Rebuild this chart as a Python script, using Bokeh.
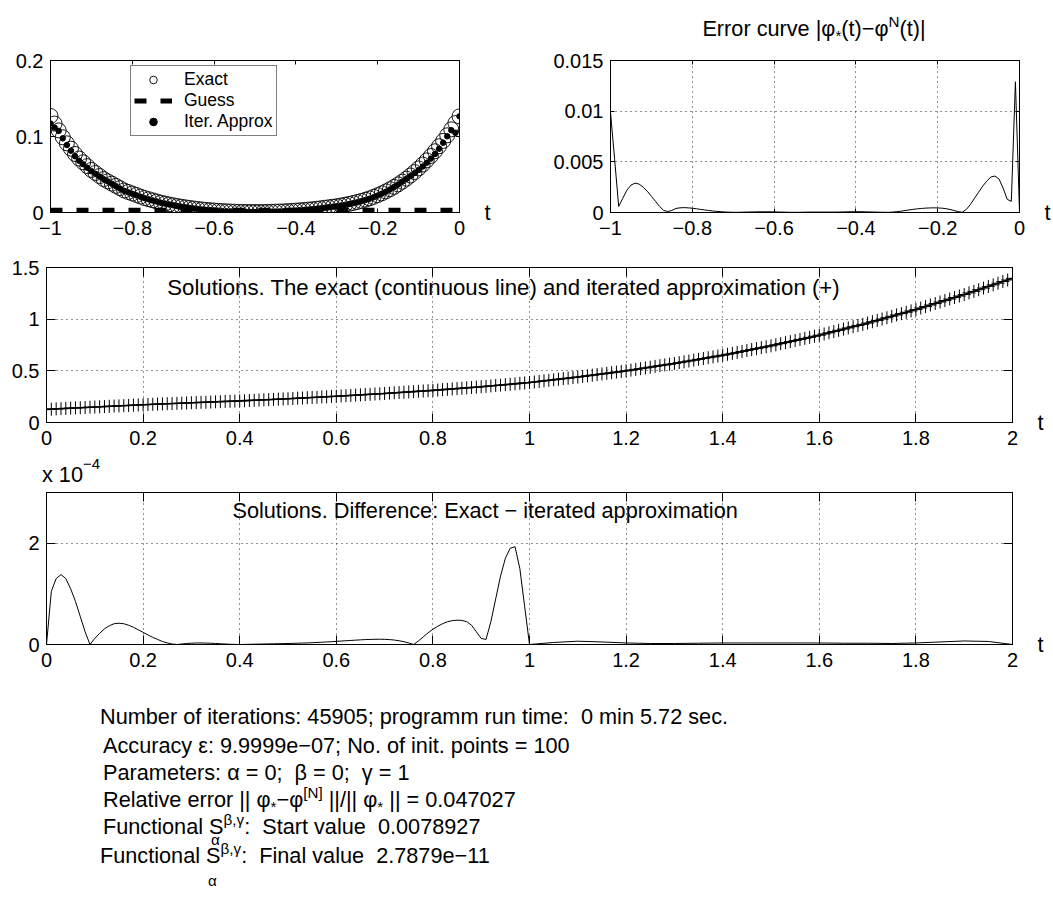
import numpy as np
from bokeh.plotting import figure
from bokeh.models import (FixedTicker, LinearAxis, Legend, LegendItem, Label,
                          CustomJSTickFormatter, Range1d, Div)
from bokeh.layouts import row, column
from bokeh.embed import file_html
from bokeh.resources import INLINE

FONT = "Liberation Sans"
TICK_FS = "20px"
TEXT_FS = "21.7px"

# ------------------------------------------------------------------ data
# initial interval [-1, 0]  (grid of init. points)
t_init = np.round(np.linspace(-1.0, 0.0, 101), 2)
phi_exact_init = [
    0.127, 0.117, 0.108, 0.099, 0.091, 0.084, 0.077, 0.071, 0.066, 0.061,
    0.056, 0.052, 0.048, 0.044, 0.041, 0.038, 0.035, 0.032, 0.029, 0.027,
    0.025, 0.023, 0.021, 0.019, 0.0175, 0.016, 0.0145, 0.013, 0.0118, 0.0106,
    0.0095, 0.0085, 0.0076, 0.0068, 0.006, 0.0053, 0.0046, 0.004, 0.0035, 0.003,
    0.0026, 0.0022, 0.0019, 0.0016, 0.0013, 0.0011, 0.0009, 0.0008, 0.0007, 0.0006,
    0.0006, 0.0006, 0.0007, 0.0008, 0.0009, 0.0011, 0.0013, 0.0015, 0.0018, 0.0021,
    0.0025, 0.0029, 0.0033, 0.0038, 0.0043, 0.0049, 0.0055, 0.0062, 0.0069, 0.0076,
    0.0083, 0.0092, 0.0102, 0.0113, 0.0125, 0.0138, 0.0152, 0.0168, 0.0186, 0.0206,
    0.0228, 0.0252, 0.0278, 0.0306, 0.0337, 0.037, 0.0406, 0.0445, 0.0487, 0.0532,
    0.058, 0.0631, 0.0686, 0.0744, 0.0806, 0.0872, 0.0942, 0.1016, 0.1094, 0.1177,
    0.1265]
phi_approx_init = [
    0.1171, 0.1117, 0.1074, 0.0976, 0.0888, 0.0813, 0.0741, 0.0682, 0.0635, 0.0589,
    0.0544, 0.0509, 0.0474, 0.0438, 0.0409, 0.0378, 0.0346, 0.0315, 0.0285, 0.0265,
    0.0246, 0.0226, 0.0207, 0.0188, 0.0173, 0.0158, 0.0144, 0.0129, 0.0117, 0.0106,
    0.0095, 0.0085, 0.0076, 0.0068, 0.006, 0.0052, 0.0045, 0.0039, 0.0034, 0.0029,
    0.0025, 0.0021, 0.0018, 0.0015, 0.0013, 0.0011, 0.0009, 0.0008, 0.0007, 0.0006,
    0.0006, 0.0006, 0.0007, 0.0008, 0.0009, 0.0011, 0.0013, 0.0015, 0.0017, 0.002,
    0.0024, 0.0028, 0.0032, 0.0037, 0.0042, 0.0048, 0.0054, 0.0061, 0.0068, 0.0076,
    0.0082, 0.0091, 0.01, 0.0111, 0.0122, 0.0134, 0.0148, 0.0164, 0.0181, 0.0201,
    0.0223, 0.0248, 0.0274, 0.0303, 0.0335, 0.0369, 0.0406, 0.0442, 0.0479, 0.0518,
    0.056, 0.0605, 0.0655, 0.0709, 0.077, 0.0839, 0.0918, 0.1003, 0.1083, 0.1048,
    0.1265]
err_init = [
    0.0099, 0.0053, 0.0006, 0.0014, 0.0022, 0.0027, 0.0029, 0.0028, 0.0025, 0.0021,
    0.0016, 0.0011, 0.0006, 0.0002, 0.0001, 0.0002, 0.0004, 0.00046, 0.00048, 0.00046,
    0.00042, 0.00037, 0.00031, 0.00025, 0.0002, 0.00015, 0.00011, 0.00008, 0.00005, 0.00003,
    0.00002, 0.00002, 0.00003, 0.00004, 0.00005, 0.00006, 0.00007, 0.00007, 0.00007, 0.00007,
    0.00006, 0.00005, 0.00004, 0.00003, 0.00002, 0.00002, 0.00002, 0.00003, 0.00004, 0.00004,
    0.00004, 0.00004, 0.00004, 0.00004, 0.00004, 0.00004, 0.00005, 0.00006, 0.00007, 0.00008,
    0.00008, 0.00008, 0.00007, 0.00006, 0.00005, 0.00004, 0.00003, 0.00002, 0.00002, 0.00004,
    0.00008, 0.00013, 0.00019, 0.00025, 0.00031, 0.00036, 0.0004, 0.00043, 0.00045, 0.00046,
    0.00045, 0.00043, 0.00038, 0.0003, 0.0002, 0.00008, 0.00003, 0.0003, 0.0008, 0.0014,
    0.002, 0.0026, 0.0031, 0.0035, 0.0036, 0.0033, 0.0024, 0.0013, 0.0011, 0.0129,
    0.0]
guess_t = [-1.0, 0.0]
guess_v = [0.003, 0.003]

# solution interval [0, 2]
t_exact = [0.0, 0.1, 0.2, 0.3, 0.4, 0.5, 0.6, 0.7, 0.8, 0.9, 1.0,
           1.1, 1.2, 1.3, 1.4, 1.5, 1.6, 1.7, 1.8, 1.9, 2.0]
phi_exact = [0.127, 0.150, 0.172, 0.191, 0.209, 0.230, 0.254, 0.281, 0.311, 0.346, 0.387,
             0.440, 0.500, 0.571, 0.651, 0.742, 0.845, 0.962, 1.093, 1.238, 1.395]
t_sol = np.round(np.linspace(0.0, 2.0, 201), 2)
phi_approx = [
    0.127, 0.129, 0.132, 0.134, 0.136, 0.139, 0.141, 0.143, 0.145, 0.148,
    0.150, 0.152, 0.154, 0.157, 0.159, 0.161, 0.163, 0.165, 0.168, 0.170,
    0.172, 0.174, 0.176, 0.178, 0.180, 0.182, 0.183, 0.185, 0.187, 0.189,
    0.191, 0.193, 0.195, 0.196, 0.198, 0.200, 0.202, 0.204, 0.205, 0.207,
    0.209, 0.211, 0.213, 0.215, 0.217, 0.219, 0.221, 0.223, 0.226, 0.228,
    0.230, 0.232, 0.235, 0.237, 0.240, 0.242, 0.244, 0.247, 0.249, 0.252,
    0.254, 0.257, 0.259, 0.262, 0.265, 0.267, 0.270, 0.273, 0.276, 0.278,
    0.281, 0.284, 0.287, 0.290, 0.293, 0.296, 0.299, 0.302, 0.305, 0.308,
    0.311, 0.314, 0.318, 0.321, 0.325, 0.328, 0.332, 0.335, 0.339, 0.342,
    0.346, 0.350, 0.354, 0.358, 0.362, 0.366, 0.370, 0.374, 0.379, 0.383,
    0.387, 0.392, 0.397, 0.403, 0.408, 0.413, 0.419, 0.424, 0.429, 0.435,
    0.440, 0.446, 0.452, 0.458, 0.464, 0.470, 0.476, 0.482, 0.488, 0.494,
    0.500, 0.507, 0.514, 0.521, 0.528, 0.535, 0.543, 0.550, 0.557, 0.564,
    0.571, 0.579, 0.587, 0.595, 0.603, 0.611, 0.619, 0.627, 0.635, 0.643,
    0.651, 0.660, 0.669, 0.678, 0.687, 0.697, 0.706, 0.715, 0.724, 0.733,
    0.742, 0.752, 0.763, 0.773, 0.783, 0.794, 0.804, 0.814, 0.824, 0.835,
    0.845, 0.857, 0.868, 0.880, 0.892, 0.904, 0.915, 0.927, 0.939, 0.950,
    0.962, 0.975, 0.988, 1.001, 1.014, 1.028, 1.041, 1.054, 1.067, 1.080,
    1.093, 1.108, 1.122, 1.137, 1.151, 1.166, 1.180, 1.195, 1.209, 1.224,
    1.238, 1.254, 1.269, 1.285, 1.301, 1.317, 1.332, 1.348, 1.364, 1.379,
    1.395]

# |exact - approx| in units of 1e-4
t_diff = np.round(np.concatenate([np.linspace(0.0, 1.0, 101),
                                  np.linspace(1.05, 2.0, 20)]), 2)
diff_e4 = [
    0.0, 1.05, 1.30, 1.38, 1.30, 1.10, 0.85, 0.55, 0.25, 0.0,
    0.12, 0.22, 0.31, 0.37, 0.41, 0.42, 0.41, 0.38, 0.34, 0.29,
    0.24, 0.19, 0.14, 0.10, 0.06, 0.03, 0.01, 0.0, 0.01, 0.02,
    0.025, 0.03, 0.03, 0.028, 0.025, 0.02, 0.015, 0.01, 0.005, 0.002,
    0.0, 0.002, 0.004, 0.006, 0.008, 0.01, 0.012, 0.014, 0.016, 0.018,
    0.02, 0.022, 0.025, 0.028, 0.031, 0.035, 0.04, 0.045, 0.05, 0.056,
    0.062, 0.068, 0.074, 0.08, 0.086, 0.092, 0.097, 0.1, 0.103, 0.104,
    0.102, 0.097, 0.088, 0.074, 0.055, 0.03, 0.0, 0.07, 0.15, 0.23,
    0.30, 0.36, 0.41, 0.45, 0.47, 0.48, 0.475, 0.45, 0.38, 0.25,
    0.12, 0.10, 0.45, 0.90, 1.35, 1.70, 1.90, 1.93, 1.50, 0.75,
    0.0,
    0.04, 0.065, 0.05, 0.03, 0.02, 0.02, 0.025, 0.03, 0.03, 0.03,
    0.03, 0.03, 0.025, 0.025, 0.02, 0.03, 0.05, 0.07, 0.06, 0.0]

x_ticks_init = [-1, -0.8, -0.6, -0.4, -0.2, 0]
y_ticks_init = [0, 0.1, 0.2]
y_ticks_err = [0, 0.005, 0.01, 0.015]
x_ticks_sol = [0, 0.2, 0.4, 0.6, 0.8, 1, 1.2, 1.4, 1.6, 1.8, 2]
y_ticks_sol = [0, 0.5, 1, 1.5]
y_ticks_diff = [0, 2]

legend_labels = ["Exact", "Guess", "Iter. Approx"]

# ------------------------------------------------------------------ helpers
FMT = """
const s = String(Math.abs(tick));
return (tick < 0 ? "\\u2212" : "") + s;
"""


def make_fig(width, height, xr, yr, lb, rb, tb, bb):
    return figure(width=width, height=height,
                  x_range=Range1d(*xr), y_range=Range1d(*yr),
                  min_border_left=lb, min_border_right=rb,
                  min_border_top=tb, min_border_bottom=bb,
                  output_backend="svg", toolbar_location=None, tools="")


def style(p, xt, yt, tick_len, grid, t_standoff):
    p.outline_line_color = "black"
    p.outline_line_width = 1
    p.outline_line_alpha = 1
    p.background_fill_color = "white"
    p.border_fill_color = "white"
    xa, ya = p.xaxis[0], p.yaxis[0]
    for ax, ticks in ((xa, xt), (ya, yt)):
        ax.ticker = FixedTicker(ticks=ticks, minor_ticks=[])
        ax.formatter = CustomJSTickFormatter(code=FMT)
        ax.major_tick_in = tick_len
        ax.major_tick_out = 0
        ax.minor_tick_in = 0
        ax.minor_tick_out = 0
        ax.axis_line_color = "black"
        ax.major_tick_line_color = "black"
        ax.major_label_text_font = FONT
        ax.major_label_text_font_size = TICK_FS
        ax.major_label_text_color = "black"
    xa.major_label_standoff = 8
    ya.major_label_standoff = 7
    # mirrored tick marks on the top and right edges (box on)
    for ticks, side in ((xt, "above"), (yt, "right")):
        ax = LinearAxis(ticker=FixedTicker(ticks=ticks, minor_ticks=[]),
                        formatter=CustomJSTickFormatter(code=FMT),
                        major_tick_in=tick_len, major_tick_out=0,
                        minor_tick_in=0, minor_tick_out=0,
                        major_label_text_font_size="0px",
                        major_label_standoff=0,
                        axis_line_color="black", major_tick_line_color="black")
        p.add_layout(ax, side)
    # the "t" at the right end of the horizontal axis
    t_ax = LinearAxis(ticker=FixedTicker(ticks=[yt[0]], minor_ticks=[]),
                      major_label_overrides={yt[0]: "t"},
                      major_tick_in=0, major_tick_out=0,
                      minor_tick_in=0, minor_tick_out=0,
                      major_tick_line_color=None, axis_line_color=None,
                      major_label_standoff=t_standoff,
                      major_label_text_font=FONT,
                      major_label_text_font_size=TEXT_FS,
                      major_label_text_color="black")
    p.add_layout(t_ax, "right")
    if grid:
        p.xgrid.ticker = FixedTicker(ticks=xt)
        p.ygrid.ticker = FixedTicker(ticks=yt)
        for g in (p.xgrid[0], p.ygrid[0]):
            g.grid_line_color = "black"
            g.grid_line_dash = "1 4"
            g.grid_line_width = 1
            g.grid_line_alpha = 0.85
    else:
        p.xgrid.visible = False
        p.ygrid.visible = False


BASE = ("font-family:'Liberation Sans',Arial,sans-serif;font-size:%s;color:#000;"
        % TEXT_FS)
SUB = 'style="font-size:70%;line-height:0;vertical-align:-0.3em"'
SUP = 'style="font-size:70%;line-height:0;vertical-align:0.6em"'

# ------------------------------------------------------------------ top left
p_tl = make_fig(540, 238, (-1, 0), (0, 0.2), 42, 89, 52, 34)
style(p_tl, x_ticks_init, y_ticks_init, 4, False, 25)
r_ex = p_tl.scatter(t_init, phi_exact_init, marker="circle", size=15,
                    fill_color=None, line_color="black", line_width=0.9)
r_gu = p_tl.line(guess_t, guess_v, line_color="black", line_width=5,
                 line_dash="12 14", line_cap="butt")
r_ap = p_tl.scatter(t_init, phi_approx_init, marker="circle", size=5.5,
                    fill_color="black", line_color="black")
leg = Legend(items=[LegendItem(label=legend_labels[0], renderers=[r_ex]),
                    LegendItem(label=legend_labels[1], renderers=[r_gu]),
                    LegendItem(label=legend_labels[2], renderers=[r_ap])],
             location=(80, 76), padding=3, spacing=0, margin=0,
             glyph_width=38, glyph_height=19, label_height=19,
             label_standoff=12, border_line_color="black",
             border_line_width=1, background_fill_color="white",
             background_fill_alpha=1, label_text_font=FONT,
             label_text_font_size="17.5px", label_text_color="black")
p_tl.add_layout(leg)

# ------------------------------------------------------------------ top right
p_tr = make_fig(505, 198, (-1, 0), (0, 0.015), 62, 33, 12, 34)
style(p_tr, x_ticks_init, y_ticks_err, 4, True, 25)
p_tr.line(t_init, err_init, line_color="black", line_width=1)

title_html = (
    '<div style="position:relative;width:505px;height:40px;%s">'
    '<div style="position:absolute;left:266px;top:9px;transform:translateX(-50%%);'
    'white-space:nowrap;line-height:24px">'
    'Error curve |&phi;<sub %s>*</sub>(t)&minus;&phi;<sup %s>N</sup>(t)|'
    '</div></div>' % (BASE, SUB, SUP))
title_div = Div(text=title_html, width=505, height=40, margin=0)

# ------------------------------------------------------------------ middle
p_mid = make_fig(1043, 210, (0, 2), (0, 1.5), 36, 39, 21, 34)
style(p_mid, x_ticks_sol, y_ticks_sol, 9, True, 25)
p_mid.line(t_exact, phi_exact, line_color="black", line_width=1.6)
p_mid.scatter(t_sol, phi_approx, marker="cross", size=13,
              line_color="black", line_width=1)
p_mid.add_layout(Label(x=0.25, y=1.31,
                       text="Solutions. The exact (continuous line) and iterated approximation (+)",
                       text_font=FONT, text_font_size="22.2px",
                       text_baseline="middle", text_color="black"))

# ------------------------------------------------------------------ scale note
x10_html = (
    '<div style="position:relative;width:1043px;height:30px;%s">'
    '<div style="position:absolute;left:34px;top:7px;white-space:nowrap;line-height:24px">'
    'x 10<span style="font-size:15px;line-height:0;vertical-align:13px">&minus;4</span>'
    '</div></div>' % BASE)
x10_div = Div(text=x10_html, width=1043, height=30, margin=0)

# ------------------------------------------------------------------ bottom
p_bot = make_fig(1043, 192, (0, 2), (0, 3), 36, 39, 6, 34)
style(p_bot, x_ticks_sol, y_ticks_diff, 9, True, 25)
p_bot.line(t_diff, diff_e4, line_color="black", line_width=1)
p_bot.add_layout(Label(x=0.385, y=2.65,
                       text="Solutions. Difference: Exact \u2212 iterated approximation",
                       text_font=FONT, text_font_size=TEXT_FS,
                       text_baseline="middle", text_color="black"))

# ------------------------------------------------------------------ text block
def alpha(top, left):
    return ('<span style="position:absolute;left:%dpx;top:%dpx;font-size:70%%;'
            'line-height:18px">&alpha;</span>' % (left, top))


BG = '<sup %s>&beta;,&gamma;</sup>' % SUP
info_lines = [
    (92, 27, "Number of iterations: 45905; programm run time:&nbsp; 0 min 5.72 sec."),
    (95, 56, "Accuracy &epsilon;: 9.9999e&minus;07; No. of init. points = 100"),
    (95, 83, "Parameters: &alpha; = 0;&nbsp; &beta; = 0;&nbsp; &gamma; = 1"),
    (95, 110, "Relative error || &phi;<sub %s>*</sub>&minus;&phi;<sup %s>[N]</sup> ||/|| "
              "&phi;<sub %s>*</sub> || = 0.047027" % (SUB, SUP, SUB)),
    (95, 137, "Functional S%s:&nbsp; Start value&nbsp; 0.0078927%s" % (BG, alpha(16, 108))),
    (92, 166, "Functional S%s:&nbsp; Final value&nbsp; 2.7879e&minus;11%s" % (BG, alpha(28, 108))),
]
body = "".join(
    '<div style="position:absolute;left:%dpx;top:%dpx;white-space:nowrap;'
    'line-height:24px">%s</div>' % (x, y, s) for x, y, s in info_lines)
text_html = ('<div style="position:relative;width:1043px;height:212px;%s">%s</div>'
             % (BASE, body))
text_div = Div(text=text_html, width=1043, height=212, margin=0)

# ------------------------------------------------------------------ layout
layout = column(
    row(p_tl, column(title_div, p_tr, spacing=0), spacing=0),
    p_mid, x10_div, p_bot, text_div, spacing=0, margin=(8, 0, 0, 8))

open("out.html", "w").write(file_html(layout, INLINE))
